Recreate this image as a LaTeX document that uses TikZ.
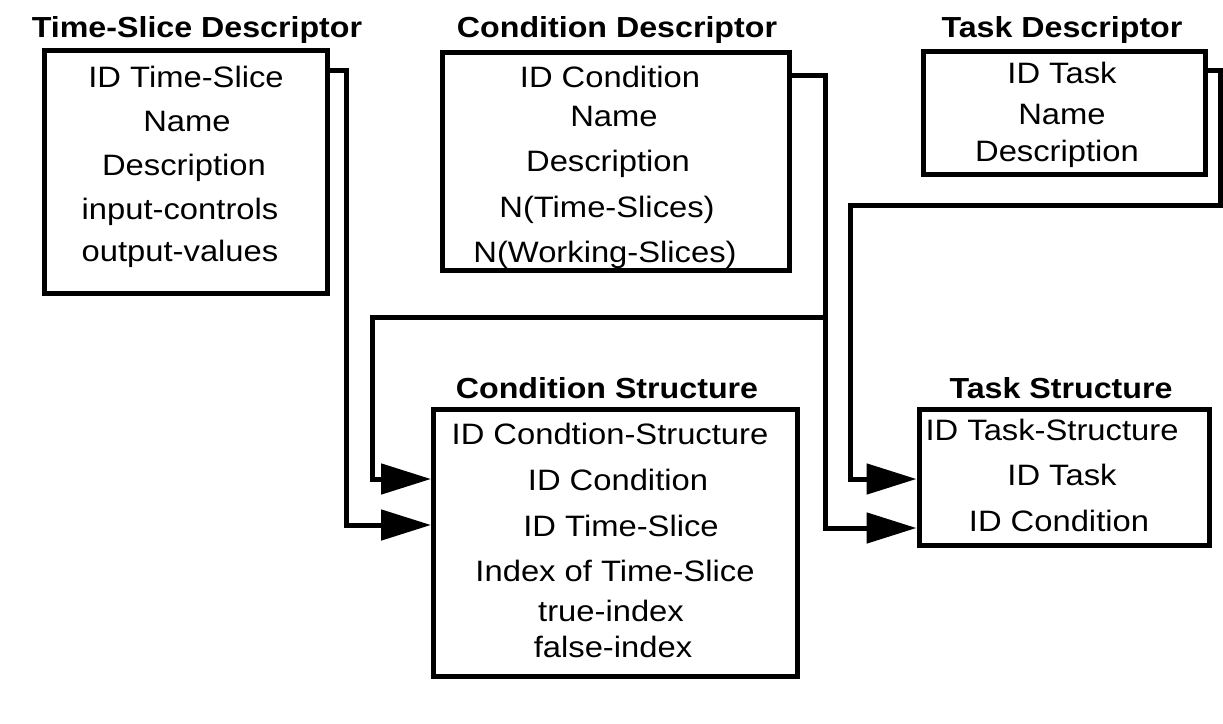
\documentclass[tikz,border=0pt]{standalone}
\usepackage{fontspec}
\setmainfont{Liberation Sans}[FakeStretch=1.11]
\usetikzlibrary{arrows.meta}
\tikzset{
  box/.style={draw, line width=5pt, rectangle, inner sep=0pt},
  txt/.style={anchor=base, inner sep=0pt, font=\fontsize{29.5}{30}\selectfont},
  ttl/.style={anchor=base, inner sep=0pt, font=\fontsize{29}{30}\selectfont\bfseries},
  wire/.style={line width=5pt, line join=miter},
  arr/.style={wire, -{Triangle[length=50pt,width=30pt]}},
}
\begin{document}
\begin{tikzpicture}[x=1pt,y=-1pt]
\useasboundingbox (0,0) rectangle (1223,723);

% boxes
\node[box, minimum width=282.5pt, minimum height=243pt] (tsd) at (185.75,171.5) {};
\node[box, minimum width=347pt, minimum height=218pt] (cd) at (615.5,161) {};
\node[box, minimum width=282pt, minimum height=123pt] (td) at (1064,112.5) {};
\node[box, minimum width=363.5pt, minimum height=267pt] (cs) at (615.25,542.5) {};
\node[box, minimum width=290pt, minimum height=136pt] (tst) at (1064,477) {};

% titles
\node[ttl] (tsdT) at (197,37) {Time-Slice Descriptor};
\node[ttl] (cdT) at (617,37) {Condition Descriptor};
\node[ttl] (tdT) at (1062,37) {Task Descriptor};
\node[ttl] (csT) at (607,398) {Condition Structure};
\node[ttl] (tstT) at (1061,398) {Task Structure};

% Time-Slice Descriptor lines
\node[txt] (tsd1) at (186,87) {ID Time-Slice};
\node[txt] (tsd2) at (187,131) {Name};
\node[txt] (tsd3) at (184,175) {Description};
\node[txt] (tsd4) at (180,219) {input-controls};
\node[txt] (tsd5) at (180,261) {output-values};

% Condition Descriptor lines
\node[txt] (cd1) at (610,87) {ID Condition};
\node[txt] (cd2) at (614,126) {Name};
\node[txt] (cd3) at (608,171) {Description};
\node[txt] (cd4) at (607,217) {N(Time-Slices)};
\node[txt] (cd5) at (605,262) {N(Working-Slices)};

% Task Descriptor lines
\node[txt] (td1) at (1062,83) {ID Task};
\node[txt] (td2) at (1062,124) {Name};
\node[txt] (td3) at (1057,161) {Description};

% Condition Structure lines
\node[txt] (cs1) at (610,444) {ID Condtion-Structure};
\node[txt] (cs2) at (618,490) {ID Condition};
\node[txt] (cs3) at (621,536) {ID Time-Slice};
\node[txt] (cs4) at (615,581) {Index of Time-Slice};
\node[txt] (cs5) at (611,621) {true-index};
\node[txt] (cs6) at (613,657) {false-index};

% Task Structure lines
\node[txt] (tst1) at (1052,440) {ID Task-Structure};
\node[txt] (tst2) at (1062,485) {ID Task};
\node[txt] (tst3) at (1059,531) {ID Condition};

% connector points
\coordinate (tsA) at (346,70);
\coordinate (tsB) at (346,525);
\coordinate (cdA) at (825,75);
\coordinate (cdB) at (825,317);
\coordinate (cdC) at (372,317);
\coordinate (cdD) at (372,479);
\coordinate (cdE) at (825,528);
\coordinate (tdA) at (1220,70);
\coordinate (tdB) at (1220,205);
\coordinate (tdC) at (850,205);
\coordinate (tdD) at (850,479);

% connectors
\draw[arr] (tsd.east |- tsA) -- (tsA) -- (tsB) -- (cs.west |- tsB);
\draw[arr] (cd.east |- cdA) -- (cdA) -- (cdE) -- (tst.west |- cdE);
\draw[arr] (cdB) -- (cdC) -- (cdD) -- (cs.west |- cdD);
\draw[arr] (td.east |- tdA) -- (tdA) -- (tdB) -- (tdC) -- (tdD) -- (tst.west |- tdD);
\end{tikzpicture}
\end{document}
